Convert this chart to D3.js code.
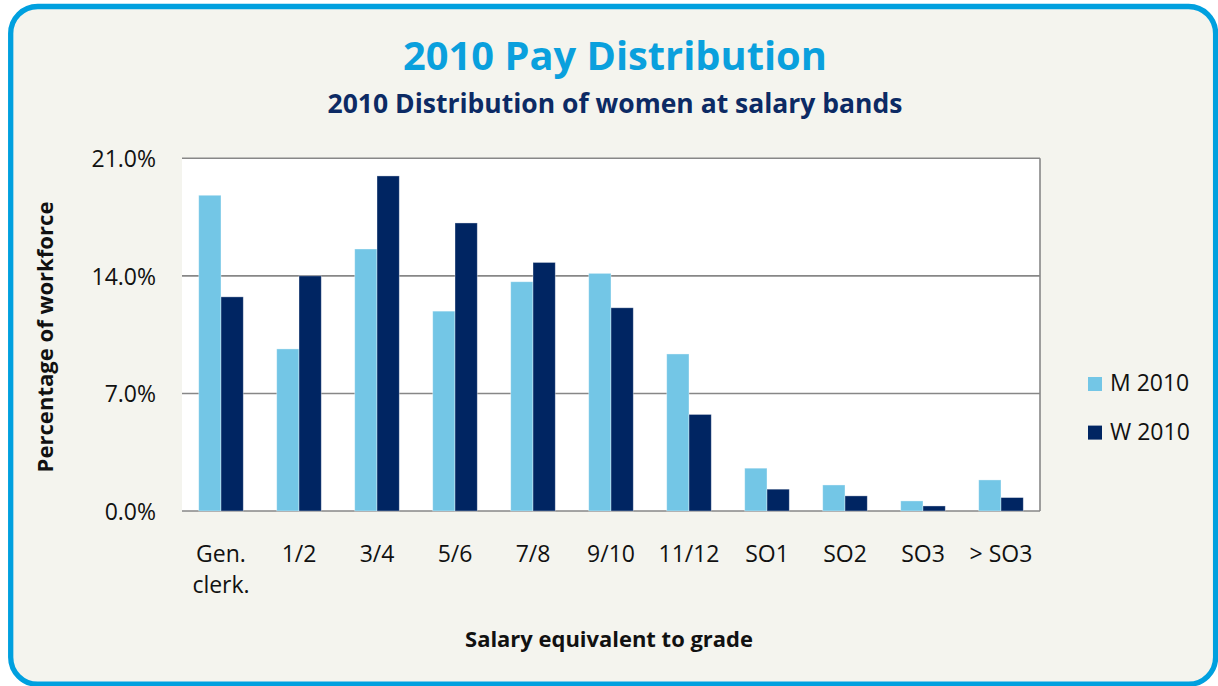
<!DOCTYPE html>
<html>
<head>
<meta charset="utf-8">
<script src="https://cdn.jsdelivr.net/npm/d3@7"></script>
<style>
  body { margin: 0; background: #ffffff; }
  svg { display: block; font-family: "Open Sans", sans-serif; }
</style>
</head>
<body>
<div id="chart"></div>
<script>
// Chart data
const categories = ["Gen.\nclerk.", "1/2", "3/4", "5/6", "7/8", "9/10", "11/12", "SO1", "SO2", "SO3", "> SO3"];
const seriesNames = ["M 2010", "W 2010"];
const menValues = [18.8, 9.65, 15.6, 11.9, 13.65, 14.15, 9.35, 2.55, 1.55, 0.6, 1.85];
const womenValues = [12.75, 14.0, 19.95, 17.15, 14.8, 12.1, 5.75, 1.3, 0.9, 0.3, 0.8];
const yTicks = [0, 7, 14, 21];

const colors = ["#73c6e6", "#002562"];

const W = 1218, H = 686;
const plot = { left: 182, right: 1040, top: 158.3, bottom: 511 };

const svg = d3.select("#chart").append("svg")
    .attr("width", W)
    .attr("height", H);

// rounded panel with blue frame
svg.append("rect")
    .attr("x", 10.7).attr("y", 6.5)
    .attr("width", 1204.9).attr("height", 677.7)
    .attr("rx", 27).attr("ry", 27)
    .attr("fill", "#f4f4ee")
    .attr("stroke", "#00a0df")
    .attr("stroke-width", 5.3);

// shrink/grow a text so it spans the given width
function fitWidth(sel, target) {
    const len = sel.node().getComputedTextLength();
    const size = parseFloat(sel.attr("font-size"));
    sel.attr("font-size", size * target / len);
}

const title = svg.append("text")
    .attr("x", 615).attr("y", 70)
    .attr("text-anchor", "middle")
    .attr("font-weight", "bold")
    .attr("font-size", 38)
    .attr("fill", "#0aa0dd")
    .text("2010 Pay Distribution");
fitWidth(title, 424);

const subtitle = svg.append("text")
    .attr("x", 615).attr("y", 113)
    .attr("text-anchor", "middle")
    .attr("font-weight", "bold")
    .attr("font-size", 26)
    .attr("fill", "#0c2a64")
    .text("2010 Distribution of women at salary bands");
fitWidth(subtitle, 575);

// scales
const data = categories.map((c, i) => ({ key: c, values: [menValues[i], womenValues[i]] }));

const x0 = d3.scaleBand()
    .domain(categories)
    .range([plot.left, plot.right]);

const bw = x0.bandwidth();
const x1 = d3.scaleBand()
    .domain(seriesNames)
    .range([bw * 0.75 / 3.5, bw * 2.75 / 3.5]);

const y = d3.scaleLinear()
    .domain([0, 21])
    .range([plot.bottom, plot.top]);

// plot area
svg.append("rect")
    .attr("x", plot.left).attr("y", plot.top)
    .attr("width", plot.right - plot.left)
    .attr("height", plot.bottom - plot.top)
    .attr("fill", "#ffffff");

// gridlines
svg.append("g")
    .selectAll("line")
    .data(yTicks)
    .enter()
    .append("line")
    .attr("x1", plot.left).attr("x2", plot.right)
    .attr("y1", d => y(d)).attr("y2", d => y(d))
    .attr("stroke", "#878787")
    .attr("stroke-width", 1.6);

svg.append("line")
    .attr("x1", plot.right).attr("x2", plot.right)
    .attr("y1", plot.top).attr("y2", plot.bottom)
    .attr("stroke", "#878787")
    .attr("stroke-width", 1.6);

// bars
const groups = svg.append("g")
    .selectAll("g")
    .data(data)
    .enter()
    .append("g")
    .attr("transform", d => `translate(${x0(d.key)},0)`);

groups.selectAll("rect")
    .data(d => d.values.map((v, i) => ({ name: seriesNames[i], value: v, idx: i })))
    .enter()
    .append("rect")
    .attr("x", d => x1(d.name))
    .attr("y", d => y(d.value))
    .attr("width", x1.bandwidth())
    .attr("height", d => y(0) - y(d.value))
    .attr("fill", d => colors[d.idx])
    .attr("stroke", "rgba(255,255,255,0.45)")
    .attr("stroke-width", 0.8);

// y axis (labels only)
const yAxis = svg.append("g")
    .attr("transform", `translate(${plot.left},0)`)
    .call(d3.axisLeft(y).tickValues(yTicks).tickSize(0).tickPadding(26)
        .tickFormat(d => d.toFixed(1) + "%"));
yAxis.select(".domain").remove();
yAxis.selectAll("text")
    .attr("font-family", "Open Sans")
    .attr("font-size", 23)
    .attr("fill", "#111111")
    .attr("dy", "0.36em");

// x axis (labels only, multi-line)
const xAxis = svg.append("g")
    .attr("transform", `translate(0,${plot.bottom})`)
    .call(d3.axisBottom(x0).tickSize(0).tickFormat(""));
xAxis.select(".domain").remove();
xAxis.selectAll(".tick")
    .append("text")
    .attr("text-anchor", "middle")
    .attr("font-family", "Open Sans")
    .attr("font-size", 23)
    .attr("fill", "#111111")
    .each(function(d) {
        const lines = d.split("\n");
        const t = d3.select(this);
        lines.forEach((ln, i) => {
            t.append("tspan")
                .attr("x", 0)
                .attr("y", 50.7 + i * 31.6)
                .text(ln);
        });
    });

// axis titles
const yTitle = svg.append("text")
    .attr("transform", "translate(52.5,337) rotate(-90)")
    .attr("text-anchor", "middle")
    .attr("font-weight", "bold")
    .attr("font-size", 20)
    .attr("fill", "#111111")
    .text("Percentage of workforce");
fitWidth(yTitle, 271);

const xTitle = svg.append("text")
    .attr("x", 609).attr("y", 646.7)
    .attr("text-anchor", "middle")
    .attr("font-weight", "bold")
    .attr("font-size", 20)
    .attr("fill", "#111111")
    .text("Salary equivalent to grade");
fitWidth(xTitle, 288);

// legend
const legend = svg.append("g")
    .selectAll("g")
    .data(seriesNames)
    .enter()
    .append("g")
    .attr("transform", (d, i) => `translate(1088,${377 + i * 48.6})`);

legend.append("rect")
    .attr("width", 14).attr("height", 14)
    .attr("fill", (d, i) => colors[i]);

legend.append("text")
    .attr("x", 22).attr("y", 14)
    .attr("font-size", 23)
    .attr("fill", "#111111")
    .text(d => d);
</script>
</body>
</html>
